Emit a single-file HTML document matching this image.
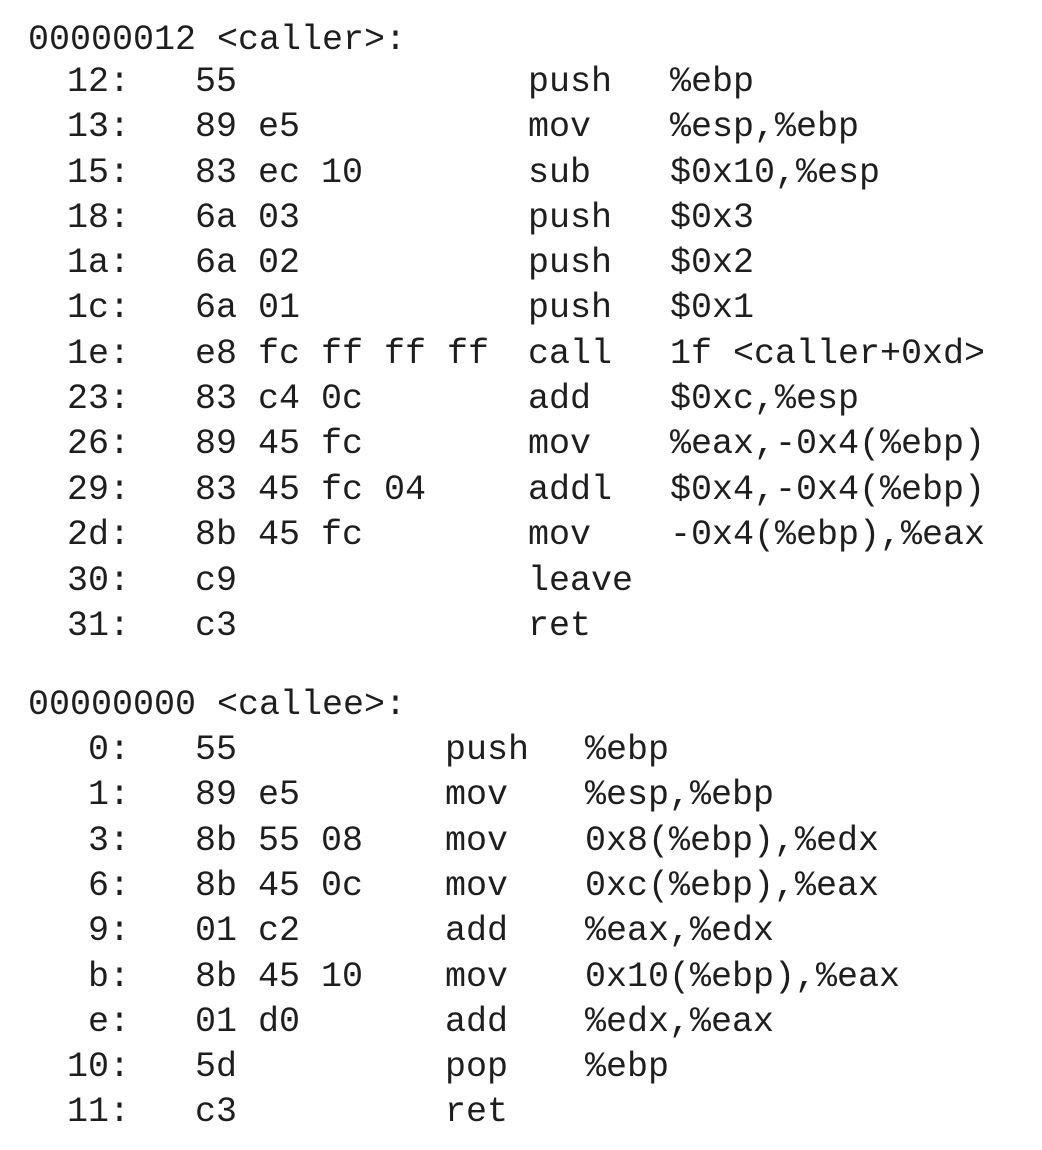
<!DOCTYPE html>
<html><head><meta charset="utf-8"><style>
html,body{margin:0;padding:0;background:#fff;}
body{width:1042px;height:1150px;position:relative;overflow:hidden;font-family:"Liberation Mono",monospace;font-size:35px;color:#1e1e1e;}
.r{position:absolute;left:0;width:1042px;height:46px;line-height:46px;white-space:pre;margin-top:2px;}
.r span{position:absolute;top:0;}
.a{right:912px;text-align:right;}
.b{left:195px;}
.m1{left:528px;}.o1{left:670px;}
.m2{left:445px;}.o2{left:585px;}
.h{left:28px;}
</style></head><body>
<div class="r" style="top:15px"><span class="h">00000012 &lt;caller&gt;:</span></div>
<div class="r" style="top:57px"><span class="a">12:</span><span class="b">55</span><span class="m1">push</span><span class="o1">%ebp</span></div>
<div class="r" style="top:102px"><span class="a">13:</span><span class="b">89 e5</span><span class="m1">mov</span><span class="o1">%esp,%ebp</span></div>
<div class="r" style="top:148px"><span class="a">15:</span><span class="b">83 ec 10</span><span class="m1">sub</span><span class="o1">$0x10,%esp</span></div>
<div class="r" style="top:193px"><span class="a">18:</span><span class="b">6a 03</span><span class="m1">push</span><span class="o1">$0x3</span></div>
<div class="r" style="top:238px"><span class="a">1a:</span><span class="b">6a 02</span><span class="m1">push</span><span class="o1">$0x2</span></div>
<div class="r" style="top:283px"><span class="a">1c:</span><span class="b">6a 01</span><span class="m1">push</span><span class="o1">$0x1</span></div>
<div class="r" style="top:329px"><span class="a">1e:</span><span class="b">e8 fc ff ff ff</span><span class="m1">call</span><span class="o1">1f &lt;caller+0xd&gt;</span></div>
<div class="r" style="top:374px"><span class="a">23:</span><span class="b">83 c4 0c</span><span class="m1">add</span><span class="o1">$0xc,%esp</span></div>
<div class="r" style="top:419px"><span class="a">26:</span><span class="b">89 45 fc</span><span class="m1">mov</span><span class="o1">%eax,-0x4(%ebp)</span></div>
<div class="r" style="top:465px"><span class="a">29:</span><span class="b">83 45 fc 04</span><span class="m1">addl</span><span class="o1">$0x4,-0x4(%ebp)</span></div>
<div class="r" style="top:510px"><span class="a">2d:</span><span class="b">8b 45 fc</span><span class="m1">mov</span><span class="o1">-0x4(%ebp),%eax</span></div>
<div class="r" style="top:556px"><span class="a">30:</span><span class="b">c9</span><span class="m1">leave</span></div>
<div class="r" style="top:601px"><span class="a">31:</span><span class="b">c3</span><span class="m1">ret</span></div>
<div class="r" style="top:680px"><span class="h">00000000 &lt;callee&gt;:</span></div>
<div class="r" style="top:725px"><span class="a">0:</span><span class="b">55</span><span class="m2">push</span><span class="o2">%ebp</span></div>
<div class="r" style="top:770px"><span class="a">1:</span><span class="b">89 e5</span><span class="m2">mov</span><span class="o2">%esp,%ebp</span></div>
<div class="r" style="top:816px"><span class="a">3:</span><span class="b">8b 55 08</span><span class="m2">mov</span><span class="o2">0x8(%ebp),%edx</span></div>
<div class="r" style="top:861px"><span class="a">6:</span><span class="b">8b 45 0c</span><span class="m2">mov</span><span class="o2">0xc(%ebp),%eax</span></div>
<div class="r" style="top:906px"><span class="a">9:</span><span class="b">01 c2</span><span class="m2">add</span><span class="o2">%eax,%edx</span></div>
<div class="r" style="top:952px"><span class="a">b:</span><span class="b">8b 45 10</span><span class="m2">mov</span><span class="o2">0x10(%ebp),%eax</span></div>
<div class="r" style="top:997px"><span class="a">e:</span><span class="b">01 d0</span><span class="m2">add</span><span class="o2">%edx,%eax</span></div>
<div class="r" style="top:1042px"><span class="a">10:</span><span class="b">5d</span><span class="m2">pop</span><span class="o2">%ebp</span></div>
<div class="r" style="top:1087px"><span class="a">11:</span><span class="b">c3</span><span class="m2">ret</span></div>
</body></html>
